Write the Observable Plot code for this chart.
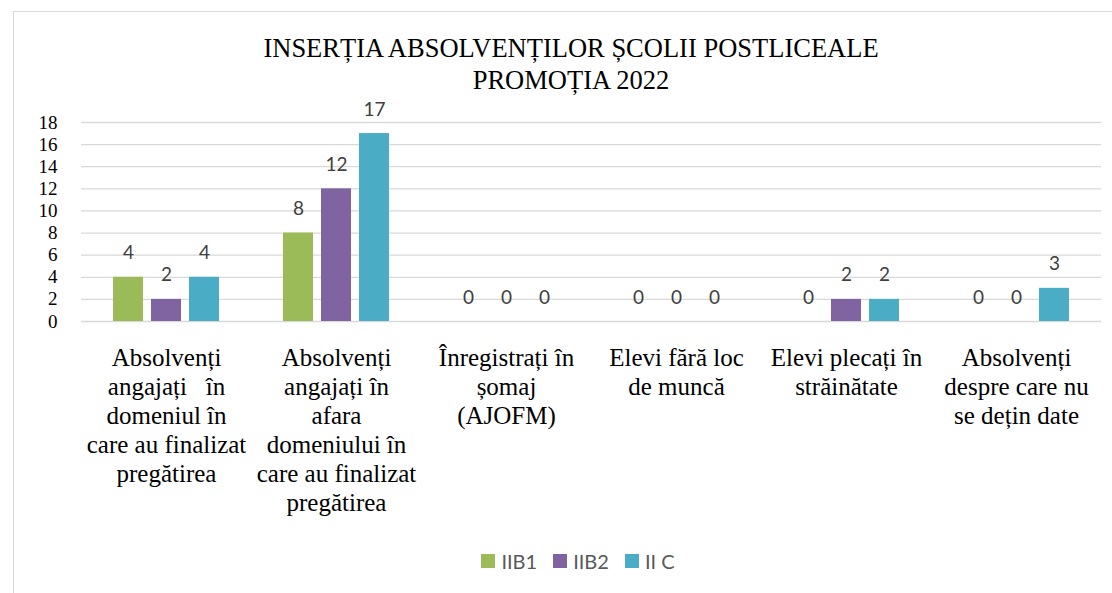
<!DOCTYPE html>
<html><head><meta charset="utf-8">
<script src="https://cdn.jsdelivr.net/npm/d3@7"></script>
<script src="https://cdn.jsdelivr.net/npm/@observablehq/plot@0.6"></script>
<style>
html,body{margin:0;padding:0;background:#fff;overflow:hidden;width:1112px;height:593px;}
#frame{position:absolute;left:13px;top:11px;width:1130px;height:620px;border:1.5px solid #d9d9d9;box-sizing:border-box;}
#chart{position:absolute;left:0;top:0;width:1112px;}
#title{font-family:"Liberation Serif",serif;font-size:26.5px;line-height:32px;text-align:center;padding-top:32px;padding-left:30px;color:#000;}
#legend{display:flex;justify-content:center;align-items:center;padding-left:44px;margin-top:16px;height:20px;font-family:Lato,sans-serif;font-size:20px;color:#595959;}
.item{display:flex;align-items:center;margin:0 8px;}
.sw{width:14px;height:14px;margin-right:6px;}
svg{overflow:visible;}
</style></head>
<body>
<div id="frame"></div>
<div id="chart">
<div id="title">INSERȚIA ABSOLVENȚILOR ȘCOLII POSTLICEALE<br>PROMOȚIA 2022</div>
<div id="plot"></div>
<div id="legend"></div>
</div>
<script>
const categories = [
  "Absolvenți\nangajați\u00a0\u00a0\u00a0în\ndomeniul în\ncare au finalizat\npregătirea",
  "Absolvenți\nangajați în\nafara\ndomeniului în\ncare au finalizat\npregătirea",
  "Înregistrați în\nșomaj\n(AJOFM)",
  "Elevi fără loc\nde muncă",
  "Elevi plecați în\nstrăinătate",
  "Absolvenți\ndespre care nu\nse dețin date"
];
const seriesNames = ["IIB1", "IIB2", "II C"];
const valuesIIB1 = [4, 8, 0, 0, 0, 0];
const valuesIIB2 = [2, 12, 0, 0, 2, 0];
const valuesIIC = [4, 17, 0, 0, 2, 3];
const colors = ["#9BBB59", "#8064A2", "#4BACC6"];
const yTicks = [0, 2, 4, 6, 8, 10, 12, 14, 16, 18];

const seriesValues = [valuesIIB1, valuesIIB2, valuesIIC];
const data = [];
categories.forEach((c, i) => {
  seriesNames.forEach((s, j) => data.push({cat: c, series: s, value: seriesValues[j][i]}));
});

const chart = Plot.plot({
  width: 1112, height: 439,
  marginTop: 26, marginBottom: 214, marginLeft: 81, marginRight: 11,
  style: "font-family: 'Liberation Serif', serif; font-size: 24px; color: #000; background: transparent;",
  fx: {domain: categories, paddingInner: 0.28, paddingOuter: 0.14, label: null},
  x: {domain: seriesNames, padding: 0.21, axis: null},
  y: {domain: [0, 18], label: null, axis: null},
  color: {domain: seriesNames, range: colors},
  marks: [
    Plot.ruleY(yTicks, {stroke: "#d9d9d9", strokeWidth: 1.3, insetLeft: -24, insetRight: -24}),
    Plot.axisY({ticks: yTicks, tickSize: 0, tickPadding: 48, fontSize: 19, fontFamily: "Liberation Serif", fill: "#000", label: null}),
    Plot.barY(data, {fx: "cat", x: "series", y: "value", fill: "series"}),
    Plot.text(data, {fx: "cat", x: "series", y: "value", text: d => String(d.value), dy: -24, fontSize: 19, fontFamily: "Lato", fill: "#404040"}),
    Plot.axisFx({anchor: "bottom", tickSize: 0, tickPadding: 24, fontSize: 25, lineHeight: 1.16, fontFamily: "Liberation Serif", fill: "#000", label: null})
  ]
});
document.getElementById("plot").appendChild(chart);

const legend = document.getElementById("legend");
seriesNames.forEach((s, i) => {
  const it = document.createElement("div");
  it.className = "item";
  const sw = document.createElement("div");
  sw.className = "sw";
  sw.style.background = colors[i];
  const t = document.createElement("span");
  t.textContent = s;
  it.appendChild(sw); it.appendChild(t);
  legend.appendChild(it);
});
</script>
</body></html>
